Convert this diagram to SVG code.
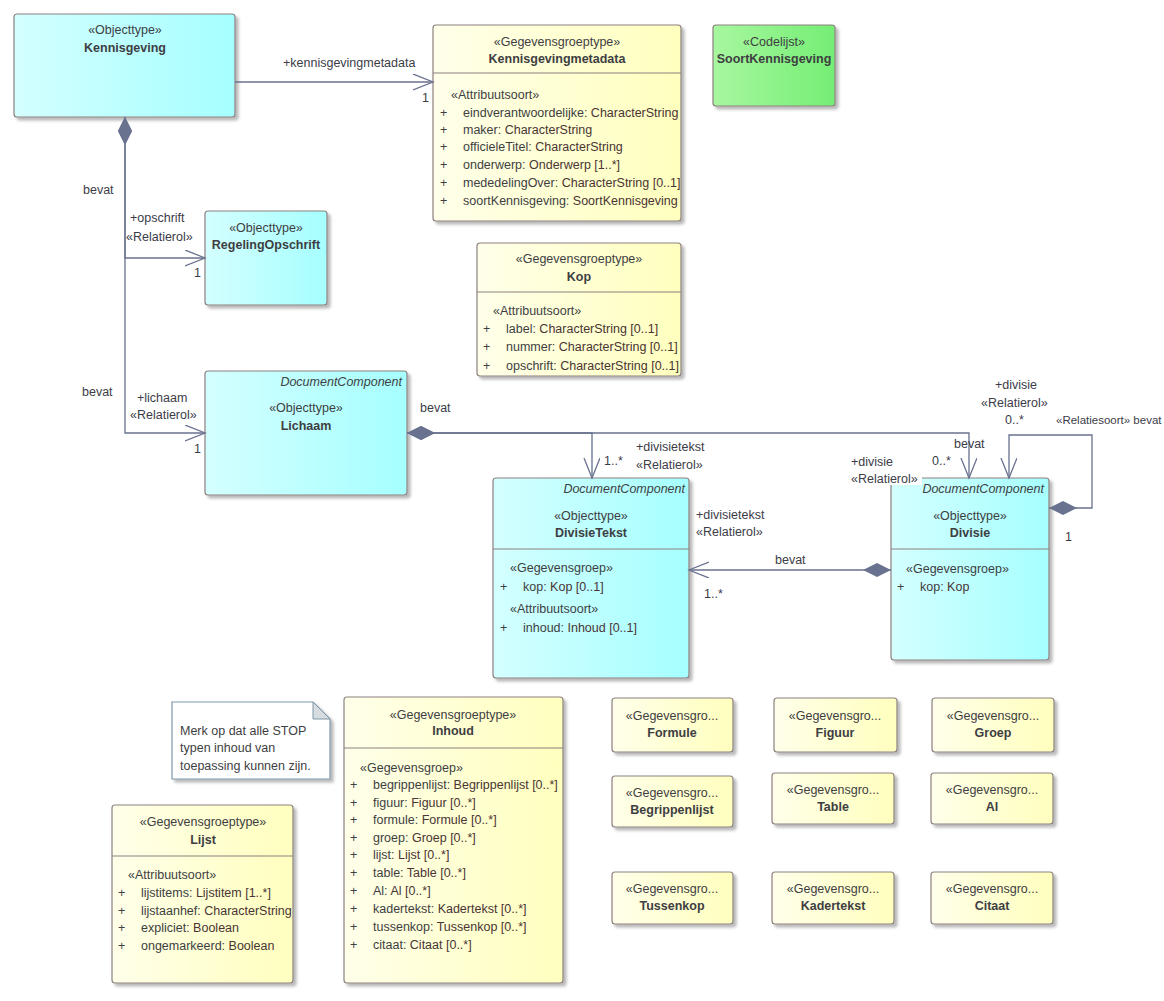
<svg xmlns="http://www.w3.org/2000/svg" width="1164" height="1001" viewBox="0 0 1164 1001">
<defs>
  <linearGradient id="gc" x1="0" y1="0" x2="1" y2="0"><stop offset="0" stop-color="#D4FFFF"/><stop offset="1" stop-color="#A6FFFF"/></linearGradient>
  <linearGradient id="gy" x1="0" y1="0" x2="1" y2="0"><stop offset="0" stop-color="#FFFFEA"/><stop offset="1" stop-color="#FFFFBE"/></linearGradient>
  <linearGradient id="gg" x1="0" y1="0" x2="1" y2="0"><stop offset="0" stop-color="#A8F7A0"/><stop offset="1" stop-color="#74EE74"/></linearGradient>
  <filter id="sh" x="-10%" y="-10%" width="130%" height="130%"><feDropShadow dx="3" dy="3" stdDeviation="1.5" flood-color="#000" flood-opacity="0.28"/></filter>
  <marker id="arr" markerUnits="userSpaceOnUse" markerWidth="22" markerHeight="18" refX="20" refY="8" orient="auto" viewBox="0 0 22 18">
    <path d="M0,0 L20,8 L0,16" fill="none" stroke="#69728F" stroke-width="1.3"/>
  </marker>
  <marker id="dia" markerUnits="userSpaceOnUse" markerWidth="30" markerHeight="16" refX="0" refY="7" orient="auto" viewBox="0 0 30 16">
    <path d="M0,7 L14,0 L28,7 L14,14 Z" fill="#69728F"/>
  </marker>
</defs>
<style>
  text { font-family: "Liberation Sans", Arial, sans-serif; font-size: 12.5px; fill: #3E3E42; }
  .b { font-weight: bold; }
  .i { font-style: italic; }
  .m { text-anchor: middle; }
  .e { text-anchor: end; }
  .c { fill: url(#gc); stroke: #8E8080; stroke-width: 1.2; filter: url(#sh); }
  .y { fill: url(#gy); stroke: #8E8080; stroke-width: 1.2; filter: url(#sh); }
  .g { fill: url(#gg); stroke: #8E8080; stroke-width: 1.2; filter: url(#sh); }
  .sep { stroke: #8E8080; stroke-width: 1.2; }
  .ty { fill: #4A3434; }
  .conn { fill: none; stroke: #69728F; stroke-width: 1.3; }
  .lbl { fill: #3C3C48; }
</style>
<rect width="1164" height="1001" fill="#FFFFFF"/>

<g id="Kennisgeving">
  <rect class="c" x="14" y="14" width="221" height="103" rx="3"/>
  <text class="m" x="125" y="34">«Objecttype»</text>
  <text class="m b" x="125" y="52">Kennisgeving</text>
</g>

<g id="Kennisgevingmetadata">
  <rect class="y" x="433" y="25" width="248" height="196" rx="3"/>
  <line class="sep" x1="433" y1="73" x2="681" y2="73"/>
  <text class="m" x="557" y="46">«Gegevensgroeptype»</text>
  <text class="m b" x="557" y="63">Kennisgevingmetadata</text>
  <text x="451" y="99">«Attribuutsoort»</text>
  <text x="440" y="117">+</text><text x="463" y="117">eindverantwoordelijke: <tspan class="ty">CharacterString</tspan></text>
  <text x="440" y="134">+</text><text x="463" y="134">maker: <tspan class="ty">CharacterString</tspan></text>
  <text x="440" y="151">+</text><text x="463" y="151">officieleTitel: <tspan class="ty">CharacterString</tspan></text>
  <text x="440" y="169">+</text><text x="463" y="169">onderwerp: <tspan class="ty">Onderwerp [1..*]</tspan></text>
  <text x="440" y="187">+</text><text x="463" y="187">mededelingOver: <tspan class="ty">CharacterString [0..1]</tspan></text>
  <text x="440" y="205">+</text><text x="463" y="205">soortKennisgeving: <tspan class="ty">SoortKennisgeving</tspan></text>
</g>

<g id="SoortKennisgeving">
  <rect class="g" x="713" y="25" width="122" height="81" rx="3"/>
  <text class="m" x="774" y="46">«Codelijst»</text>
  <text class="m b" x="774" y="63">SoortKennisgeving</text>
</g>

<g id="RegelingOpschrift">
  <rect class="c" x="205" y="211" width="122" height="94" rx="3"/>
  <text class="m" x="266" y="232">«Objecttype»</text>
  <text class="m b" x="266" y="249">RegelingOpschrift</text>
</g>

<g id="Kop">
  <rect class="y" x="477" y="243" width="204" height="133" rx="3"/>
  <line class="sep" x1="477" y1="292" x2="681" y2="292"/>
  <text class="m" x="579" y="263">«Gegevensgroeptype»</text>
  <text class="m b" x="579" y="281">Kop</text>
  <text x="493" y="315">«Attribuutsoort»</text>
  <text x="483" y="333">+</text><text x="506" y="333">label: <tspan class="ty">CharacterString [0..1]</tspan></text>
  <text x="483" y="351">+</text><text x="506" y="351">nummer: <tspan class="ty">CharacterString [0..1]</tspan></text>
  <text x="483" y="370">+</text><text x="506" y="370">opschrift: <tspan class="ty">CharacterString [0..1]</tspan></text>
</g>

<g id="Lichaam">
  <rect class="c" x="205" y="371" width="202" height="124" rx="3"/>
  <text class="e i" x="402" y="386">DocumentComponent</text>
  <text class="m" x="306" y="412">«Objecttype»</text>
  <text class="m b" x="306" y="430">Lichaam</text>
</g>

<g id="DivisieTekst">
  <rect class="c" x="493" y="478" width="196" height="200" rx="3"/>
  <line class="sep" x1="493" y1="549" x2="689" y2="549"/>
  <text class="e i" x="685" y="493">DocumentComponent</text>
  <text class="m" x="591" y="520">«Objecttype»</text>
  <text class="m b" x="591" y="537">DivisieTekst</text>
  <text x="510" y="572">«Gegevensgroep»</text>
  <text x="500" y="591">+</text><text x="523" y="591">kop: <tspan class="ty">Kop [0..1]</tspan></text>
  <text x="510" y="613">«Attribuutsoort»</text>
  <text x="500" y="632">+</text><text x="523" y="632">inhoud: <tspan class="ty">Inhoud [0..1]</tspan></text>
</g>

<g id="Divisie">
  <rect class="c" x="891" y="478" width="158" height="182" rx="3"/>
  <line class="sep" x1="891" y1="549" x2="1049" y2="549"/>
  <text class="e i" x="1044" y="493">DocumentComponent</text>
  <text class="m" x="970" y="520">«Objecttype»</text>
  <text class="m b" x="970" y="537">Divisie</text>
  <text x="906" y="573">«Gegevensgroep»</text>
  <text x="897" y="591">+</text><text x="920" y="591">kop: <tspan class="ty">Kop</tspan></text>
</g>

<g id="Notitie">
  <path d="M172,702 H313 L330,719 V779 H172 Z" fill="#FFFFFF" stroke="#7E98AA" stroke-width="1.2" filter="url(#sh)"/>
  <path d="M313,702 V719 H330 Z" fill="#D6DCE0" stroke="#7E98AA" stroke-width="1"/>
  <text x="180" y="735">Merk op dat alle STOP</text>
  <text x="180" y="752">typen inhoud van</text>
  <text x="180" y="770">toepassing kunnen zijn.</text>
</g>

<g id="Inhoud">
  <rect class="y" x="344" y="697" width="219" height="286" rx="3"/>
  <line class="sep" x1="344" y1="748" x2="563" y2="748"/>
  <text class="m" x="453" y="719">«Gegevensgroeptype»</text>
  <text class="m b" x="453" y="735">Inhoud</text>
  <text x="360" y="772">«Gegevensgroep»</text>
  <text x="350" y="789">+</text><text x="373" y="789">begrippenlijst: <tspan class="ty">Begrippenlijst [0..*]</tspan></text>
  <text x="350" y="807">+</text><text x="373" y="807">figuur: <tspan class="ty">Figuur [0..*]</tspan></text>
  <text x="350" y="824">+</text><text x="373" y="824">formule: <tspan class="ty">Formule [0..*]</tspan></text>
  <text x="350" y="842">+</text><text x="373" y="842">groep: <tspan class="ty">Groep [0..*]</tspan></text>
  <text x="350" y="859">+</text><text x="373" y="859">lijst: <tspan class="ty">Lijst [0..*]</tspan></text>
  <text x="350" y="877">+</text><text x="373" y="877">table: <tspan class="ty">Table [0..*]</tspan></text>
  <text x="350" y="895">+</text><text x="373" y="895">Al: <tspan class="ty">Al [0..*]</tspan></text>
  <text x="350" y="913">+</text><text x="373" y="913">kadertekst: <tspan class="ty">Kadertekst [0..*]</tspan></text>
  <text x="350" y="931">+</text><text x="373" y="931">tussenkop: <tspan class="ty">Tussenkop [0..*]</tspan></text>
  <text x="350" y="949">+</text><text x="373" y="949">citaat: <tspan class="ty">Citaat [0..*]</tspan></text>
</g>

<g id="Lijst">
  <rect class="y" x="112" y="805" width="181" height="178" rx="3"/>
  <line class="sep" x1="112" y1="856" x2="293" y2="856"/>
  <text class="m" x="203" y="826">«Gegevensgroeptype»</text>
  <text class="m b" x="203" y="844">Lijst</text>
  <text x="128" y="879">«Attribuutsoort»</text>
  <text x="118" y="897">+</text><text x="141" y="897">lijstitems: <tspan class="ty">Lijstitem [1..*]</tspan></text>
  <text x="118" y="915">+</text><text x="141" y="915">lijstaanhef: <tspan class="ty">CharacterString</tspan></text>
  <text x="118" y="932">+</text><text x="141" y="932">expliciet: <tspan class="ty">Boolean</tspan></text>
  <text x="118" y="950">+</text><text x="141" y="950">ongemarkeerd: <tspan class="ty">Boolean</tspan></text>
</g>

<g id="Formule">
  <rect class="y" x="612" y="698" width="121" height="54" rx="3"/>
  <text class="m" x="672" y="720">«Gegevensgro...</text>
  <text class="m b" x="672" y="737">Formule</text>
</g>
<g id="Figuur">
  <rect class="y" x="774" y="698" width="123" height="54" rx="3"/>
  <text class="m" x="835" y="720">«Gegevensgro...</text>
  <text class="m b" x="835" y="737">Figuur</text>
</g>
<g id="Groep">
  <rect class="y" x="932" y="698" width="122" height="54" rx="3"/>
  <text class="m" x="993" y="720">«Gegevensgro...</text>
  <text class="m b" x="993" y="737">Groep</text>
</g>
<g id="Begrippenlijst">
  <rect class="y" x="612" y="776" width="121" height="51" rx="3"/>
  <text class="m" x="672" y="797">«Gegevensgro...</text>
  <text class="m b" x="672" y="814">Begrippenlijst</text>
</g>
<g id="Table">
  <rect class="y" x="772" y="773" width="122" height="51" rx="3"/>
  <text class="m" x="833" y="794">«Gegevensgro...</text>
  <text class="m b" x="833" y="811">Table</text>
</g>
<g id="Al">
  <rect class="y" x="931" y="773" width="122" height="51" rx="3"/>
  <text class="m" x="992" y="794">«Gegevensgro...</text>
  <text class="m b" x="992" y="811">Al</text>
</g>
<g id="Tussenkop">
  <rect class="y" x="612" y="872" width="121" height="52" rx="3"/>
  <text class="m" x="672" y="893">«Gegevensgro...</text>
  <text class="m b" x="672" y="910">Tussenkop</text>
</g>
<g id="Kadertekst">
  <rect class="y" x="772" y="872" width="122" height="52" rx="3"/>
  <text class="m" x="833" y="893">«Gegevensgro...</text>
  <text class="m b" x="833" y="910">Kadertekst</text>
</g>
<g id="Citaat">
  <rect class="y" x="931" y="872" width="122" height="52" rx="3"/>
  <text class="m" x="992" y="893">«Gegevensgro...</text>
  <text class="m b" x="992" y="910">Citaat</text>
</g>

<g id="connectors">
  <path class="conn" d="M235,82 H433" marker-end="url(#arr)"/>
  <path class="conn" d="M125,117 V258 H205" marker-start="url(#dia)" marker-end="url(#arr)"/>
  <path class="conn" d="M125,117 V433 H205" marker-start="url(#dia)" marker-end="url(#arr)"/>
  <path class="conn" d="M407,433 H592 V478" marker-start="url(#dia)" marker-end="url(#arr)"/>
  <path class="conn" d="M407,433 H969 V478" marker-start="url(#dia)" marker-end="url(#arr)"/>
  <path class="conn" d="M891,570 H689" marker-start="url(#dia)" marker-end="url(#arr)"/>
  <path class="conn" d="M1049,508 H1092 V435 H1009 V478" marker-start="url(#dia)" marker-end="url(#arr)"/>

  <text class="lbl" x="283" y="67">+kennisgevingmetadata</text>
  <text class="lbl" x="422" y="102">1</text>
  <text class="lbl" x="83" y="194">bevat</text>
  <text class="lbl" x="130" y="222">+opschrift</text>
  <text class="lbl" x="126" y="241">«Relatierol»</text>
  <text class="lbl" x="194" y="277">1</text>
  <text class="lbl" x="82" y="396">bevat</text>
  <text class="lbl" x="137" y="402">+lichaam</text>
  <text class="lbl" x="130" y="419">«Relatierol»</text>
  <text class="lbl" x="194" y="453">1</text>
  <text class="lbl" x="420" y="412">bevat</text>
  <text class="lbl" x="604" y="465">1..*</text>
  <text class="lbl" x="636" y="451">+divisietekst</text>
  <text class="lbl" x="636" y="469">«Relatierol»</text>
  <text class="lbl" x="696" y="519">+divisietekst</text>
  <text class="lbl" x="696" y="536">«Relatierol»</text>
  <text class="lbl" x="775" y="564">bevat</text>
  <text class="lbl" x="704" y="598">1..*</text>
  <text class="lbl" x="851" y="466">+divisie</text>
  <rect x="850" y="472" width="72" height="13" fill="#FFFFFF"/>
  <text class="lbl" x="851" y="483">«Relatierol»</text>
  <text class="lbl" x="932" y="465">0..*</text>
  <text class="lbl" x="954" y="448">bevat</text>
  <text class="lbl" x="995" y="389">+divisie</text>
  <text class="lbl" x="981" y="407">«Relatierol»</text>
  <text class="lbl" x="1005" y="424">0..*</text>
  <text class="lbl" x="1056" y="424" style="font-size:11.5px">«Relatiesoort» bevat</text>
  <text class="lbl" x="1065" y="541">1</text>
</g>
</svg>
